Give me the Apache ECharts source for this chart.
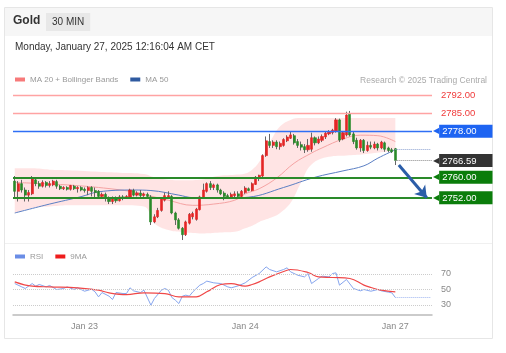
<!DOCTYPE html>
<html>
<head>
<meta charset="utf-8">
<script src="https://cdn.jsdelivr.net/npm/echarts@6/dist/echarts.min.js"></script>
<style>
  html, body { margin: 0; padding: 0; background: #fff; }
  #chart { width: 506px; height: 353px; }
</style>
</head>
<body>
<div id="chart"></div>
<script>
// 30 min slots on the x axis (data + empty room on the right)
const slots = Array.from({ length: 120 }, (_, i) => String(i));
const tickIndex = [20, 66, 109];
const tickText = ['Jan 23', 'Jan 24', 'Jan 27'];

// [open, close, low, high]
const candles = [
  [2758.5,2754.5,2751.5,2760.5],[2754.5,2757.5,2750.5,2758.5],[2757.5,2755,2754,2759],[2755,2753,2750.5,2756],
  [2753,2754,2750.5,2755],[2753.5,2759.5,2753,2760.5],[2759,2757.5,2756.5,2760],[2757.5,2756.5,2755.5,2758.5],
  [2756.5,2758,2756,2758.8],[2758,2756.8,2756,2758.5],[2756.8,2757.5,2756,2758.5],[2757,2758.5,2756.5,2759],
  [2758.3,2756.5,2755.5,2759],[2756.5,2755.5,2755,2757],[2755.5,2756,2755,2756.5],[2756,2755.3,2754.8,2756.5],
  [2755.3,2756.8,2754.8,2757],[2756.5,2755.5,2755,2757],[2755.5,2756,2754,2756.5],[2756,2755,2754.5,2756.5],
  [2755.3,2754.8,2754,2756],[2754.8,2756,2753,2756.5],[2756,2754.5,2752.5,2756.5],[2754.8,2754,2752,2756],
  [2754.5,2752.5,2751.5,2755],[2752.5,2753.3,2751.5,2754],[2753.3,2752,2750.5,2754],[2752,2750.5,2749.5,2752.5],
  [2750.5,2752,2749.5,2752.5],[2752,2750.8,2750,2752.5],[2750.8,2752.3,2750.5,2753],[2752.3,2751.8,2751,2753],
  [2751.8,2752.5,2751.5,2753],[2752,2755,2751.5,2755.5],[2754.8,2753,2752.5,2755.5],[2753,2753.8,2752.5,2754.5],
  [2753.8,2752.8,2752,2755],[2752.8,2753.5,2752.3,2754],[2753.3,2752.5,2752,2754],[2752.3,2742.5,2741.3,2753],
  [2742.5,2744.5,2742,2745.5],[2744.5,2747,2744,2748],[2747,2751.5,2746.5,2752],[2751,2752.8,2750.5,2754],
  [2752.3,2752.8,2751.5,2754.5],[2752.5,2746,2745.5,2753],[2746,2743.3,2741.3,2746.5],[2743.3,2740,2739.5,2744],
  [2740,2737.5,2735.4,2740.5],[2737.5,2742.5,2737,2743],[2742,2745.5,2741.5,2746],[2744.5,2745.8,2743.5,2746.5],
  [2743.5,2747.5,2743,2748],[2747.3,2752.3,2747,2752.8],[2752,2755,2751.5,2757.5],[2754.5,2757.5,2754,2758],
  [2757.5,2756,2755,2758.5],[2756,2757,2755,2757.5],[2757,2755,2754,2757.5],[2755,2753.5,2753,2755.5],
  [2753.8,2752.5,2751,2754.5],[2752.8,2752.3,2751.5,2753.5],[2752.3,2753.3,2752,2754],[2752.8,2753.5,2752,2754.5],
  [2753.5,2752.5,2752,2754.5],[2752.5,2754.5,2752.2,2755],[2754,2755.8,2753.5,2756.5],[2755.5,2754.8,2754.5,2756],
  [2754.8,2757.5,2754.5,2758],[2757.2,2760,2757,2760.5],[2759.5,2760.8,2758.5,2761],[2760.5,2768.5,2760,2769],
  [2768.5,2774.3,2768,2776],[2774,2772.5,2771.5,2777],[2772.5,2773.8,2771.5,2774.5],[2773.8,2772,2771,2774.5],
  [2772,2773.3,2770.8,2774],[2772.5,2774.8,2772,2775.3],[2774.3,2775.8,2773.8,2776.5],[2775.3,2776.6,2775,2778],
  [2776.3,2773.5,2772.8,2777],[2774,2772.5,2771.5,2775],[2772.8,2771.8,2770.5,2774],[2772,2770.8,2769.5,2773],
  [2770.8,2772.5,2770,2775],[2771,2775.5,2770,2777.5],[2775.5,2773.5,2772.5,2776],[2773.5,2775,2773,2776],
  [2774.5,2776,2773.8,2776.8],[2775.8,2777.3,2775,2778],[2777,2777.8,2776.5,2778.5],[2777.5,2778.5,2776.8,2779],
  [2778,2782.5,2777.5,2783.2],[2782.5,2774.6,2773.8,2783],[2775,2777.5,2774.5,2778],[2776.6,2784.4,2776,2785.7],
  [2784.8,2776.6,2776,2786],[2777,2774,2773,2778],[2774.5,2771.5,2770.8,2775.5],[2771.5,2774.5,2770,2775],
  [2774.5,2770.5,2769.5,2775],[2770.5,2772.5,2770,2774],[2772.5,2771.8,2771,2774],[2771.5,2773,2771,2774],
  [2773,2771.5,2770.5,2773.5],[2771.5,2773.8,2771,2774.3],[2773.5,2771,2770,2774],[2771.5,2770.5,2769.8,2772],
  [2770.8,2770,2769.5,2771.5],[2771.2,2766.59,2764.8,2771.5]
];

// Bollinger bands (read at sample slots)
const bandIdx   = [0, 5, 10, 15, 20, 24, 30, 37, 40, 44, 48, 53, 58, 63, 66, 68, 70, 72, 74, 76, 79, 82, 85, 90, 95, 100, 105, 109];
const bandUpper = [2763.5,2763.5,2763,2762.8,2762.5,2762.2,2761.8,2761.3,2760,2759,2758.8,2759,2760.5,2761,2761.5,2763,2766,2771,2776,2780,2782.5,2783.2,2783.2,2783.2,2783.2,2783.2,2783.2,2783.2];
const bandLower = [2746,2748,2748.5,2749,2749,2749,2749,2748.5,2742,2739.3,2738.5,2738,2738.3,2738.6,2740,2741,2742.5,2743.5,2744.5,2746,2750,2758,2765,2768,2768.5,2769,2769.8,2770.5];

const ma20Idx = [0, 8, 15, 24, 34, 37, 44, 51, 57, 63, 66, 70, 75, 80, 85, 88, 94, 99, 104, 109];
const ma20    = [2758,2757.5,2757,2756,2754.3,2753.3,2751,2749,2749.5,2751,2753.5,2755.5,2759.7,2765.5,2769.5,2771.5,2775,2776.5,2776.3,2774];
const ma50Idx = [0, 10, 19, 24, 34, 39, 47, 51, 60, 67, 77, 86, 94, 100, 104, 109];
const ma50    = [2746,2749.5,2752.4,2754.3,2755,2754.8,2753,2752,2751.8,2752.2,2756,2760,2762.5,2764.5,2767.5,2770.8];

const rsiIdx = [0,2,3,5,6,7,9,10,12,14,15,17,18,20,22,23,24,25,27,28,29,31,32,33,34,36,37,39,40,42,43,44,45,46,47,48,49,50,51,53,54,55,57,59,61,62,64,66,68,70,72,73,75,77,78,79,81,83,84,85,87,88,90,91,92,93,95,97,99,100,102,104,105,107,108,109];
const rsi    = [57.7,53.4,51.3,57.7,54.3,56.5,53.4,55.2,50,51.3,53.4,50,52.2,47.8,50.4,47,40.5,46.1,41.4,37.1,46.1,44.8,44.8,52.2,48.3,46.1,49.1,29.8,38.4,49.1,51.3,49.1,39.7,36.2,31.9,41.4,42.7,41.4,47,55.6,57.7,60.8,58.6,57.7,53.4,52.2,54.7,58.6,65.5,70.6,79.2,75.8,72.8,75.8,78,72.8,68.5,66.3,70.6,57.7,64.2,67.2,66.3,70.6,71.5,55.6,62.9,51.3,48.3,50,47.8,50,48.3,46.6,45.7,39.7];
const rsiMaIdx = [0,5,10,18,24,27,32,37,43,47,52,55,59,62,66,68,70,73,78,79,84,87,91,96,100,102,105,109];
const rsiMa    = [59.9,54.3,53.4,52.2,49.1,45.7,43.5,45.7,44.8,40.5,40.5,47,56.5,57.7,54.3,56.5,59.9,66.3,74.9,75.8,71.9,66.3,65.5,64.2,55.6,52.6,49.1,47];

const resistance = [2792, 2785];
const pivot = 2778;
const supports = [2760, 2752];
const lastPrice = 2766.59;
const arrowFrom = [110, 2764.8];
const arrowTo = [118, 2752];
const rsiLevels = [70, 50, 30];

const font = 'Liberation Sans, Arial, sans-serif';
const pairs = (idx, vals) => idx.map((i, k) => [i, vals[k]]);

function tag(text, bg) {
  return {
    show: true, position: 'end', distance: 1,
    formatter: '{n|◀}{b|' + text + '}',
    rich: {
      n: { color: bg, fontSize: 8, lineHeight: 12, fontFamily: 'DejaVu Sans' },
      b: { backgroundColor: bg, color: '#fff', fontSize: 9.5, fontFamily: font,
           lineHeight: 12, height: 12, padding: [1, 16, 0, 3] }
    }
  };
}

// horizontal level as a two-point segment across the whole price grid
function level(v, color, width, label) {
  return [
    { coord: [0, v], x: 13, lineStyle: { color: color, width: width, type: 'solid', opacity: 1 }, label: label },
    { coord: [119, v], x: 432 }
  ];
}

const chart = echarts.init(document.getElementById('chart'));

const levelLines = [
  ...resistance.map(v => level(v, '#ffa3a3', 1.4, {
    show: true, position: 'end', distance: 9, formatter: v.toFixed(2),
    color: '#f03a3a', fontSize: 9.5, fontFamily: font })),
  level(pivot, '#2f6ff5', 1.4, tag(pivot.toFixed(2), '#1e64f2')),
  ...supports.map(v => level(v, '#2a8a2a', 2, tag(v.toFixed(2), '#0b7d0b'))),
  [
    { coord: [109, lastPrice], lineStyle: { color: '#888', width: 1, type: 'dotted' }, label: tag(lastPrice.toFixed(2), '#333333') },
    { coord: [119, lastPrice], x: 432 }
  ],
  [
    { coord: [109, ma50[ma50.length - 1]], lineStyle: { color: '#8aa0d0', width: 1, type: 'dotted' }, label: { show: false } },
    { coord: [119, ma50[ma50.length - 1]] }
  ],
  [
    { coord: arrowFrom, lineStyle: { color: '#2b5da8', width: 3, type: 'solid' }, label: { show: false } },
    { coord: arrowTo, symbol: 'arrow', symbolSize: 11 }
  ]
];

const option = {
  animation: false,
  backgroundColor: '#fff',
  textStyle: { fontFamily: font },
  graphic: [
    { type: 'rect', z: -10, shape: { x: 4.5, y: 7.5, width: 488, height: 331 },
      style: { fill: '#fff', stroke: '#e6e6e6', lineWidth: 1 } },
    { type: 'rect', z: -9, shape: { x: 5, y: 8, width: 487, height: 28 },
      style: { fill: '#f6f6f6' } },
    { type: 'line', z: -9, shape: { x1: 5, y1: 243.5, x2: 492, y2: 243.5 },
      style: { stroke: '#f0f0f0', lineWidth: 1 } }
  ],
  title: [
    { text: 'Gold', left: 13, top: 15, padding: 0,
      textStyle: { fontSize: 12, fontWeight: 'bold', color: '#333', fontFamily: font } },
    { text: '30 MIN', left: 46, top: 13, padding: [4, 6, 4, 6], backgroundColor: '#e8e8e8',
      textStyle: { fontSize: 10, fontWeight: 'normal', color: '#333', fontFamily: font } },
    { text: 'Monday, January 27, 2025 12:16:04 AM CET', left: 15, top: 42, padding: 0,
      textStyle: { fontSize: 10, fontWeight: 'normal', color: '#333', fontFamily: font } },
    { text: 'Research © 2025 Trading Central', right: 19, top: 76, padding: 0,
      textStyle: { fontSize: 8.5, fontWeight: 'normal', color: '#aaa', fontFamily: font } }
  ],
  legend: [
    { top: 75.5, left: 15, padding: 0, icon: 'rect', itemWidth: 10, itemHeight: 4, itemGap: 12,
      textStyle: { color: '#999', fontSize: 8, fontFamily: font },
      data: [{ name: 'MA 20 + Bollinger Bands', itemStyle: { color: '#f77a7a' } },
             { name: 'MA 50', itemStyle: { color: '#2f5aa0' } }] },
    { top: 252.5, left: 15, padding: 0, icon: 'rect', itemWidth: 10, itemHeight: 4, itemGap: 12,
      textStyle: { color: '#999', fontSize: 8, fontFamily: font },
      data: [{ name: 'RSI', itemStyle: { color: '#6a8de6' } },
             { name: '9MA', itemStyle: { color: '#ee1c1c' } }] }
  ],
  grid: [
    { left: 13, width: 419, top: 88, height: 155.6 },
    { left: 13, width: 419, top: 262, height: 53 }
  ],
  xAxis: [
    { type: 'category', gridIndex: 0, data: slots, boundaryGap: true, show: false },
    { type: 'category', gridIndex: 1, data: slots, boundaryGap: true,
      axisLine: { lineStyle: { color: '#bbb', width: 1.5 } },
      axisTick: { show: false },
      axisLabel: { interval: i => tickIndex.includes(i), margin: 7,
                   formatter: (v, i) => tickText[tickIndex.indexOf(i)] || '',
                   color: '#888', fontSize: 9, fontFamily: font } }
  ],
  yAxis: [
    { type: 'value', gridIndex: 0, min: 2734, max: 2795, show: false, splitLine: { show: false } },
    { type: 'value', gridIndex: 1, min: 17.1, max: 85.5, show: false, splitLine: { show: false } }
  ],
  series: [
    { name: 'bandLow', type: 'line', stack: 'bb', smooth: 0.4, symbol: 'none', z: 1,
      data: pairs(bandIdx, bandLower), lineStyle: { opacity: 0 } },
    { name: 'bandFill', type: 'line', stack: 'bb', smooth: 0.4, symbol: 'none', z: 1,
      data: bandIdx.map((i, k) => [i, bandUpper[k] - bandLower[k]]),
      lineStyle: { opacity: 0 }, areaStyle: { color: 'rgba(255,120,120,0.2)', opacity: 1 } },
    { name: 'MA 20 + Bollinger Bands', type: 'line', smooth: 0.4, symbol: 'none', z: 2,
      data: pairs(ma20Idx, ma20), lineStyle: { color: '#f5a3a3', width: 1 } },
    { name: 'MA 50', type: 'line', smooth: 0.4, symbol: 'none', z: 2,
      data: pairs(ma50Idx, ma50), lineStyle: { color: '#5b7fc4', width: 1 } },
    { name: 'wicks', type: 'candlestick', z: 3, barWidth: 1, data: candles,
      itemStyle: { color: '#666', color0: '#666', borderColor: '#666', borderColor0: '#666', borderWidth: 1 } },
    { name: 'bodies', type: 'candlestick', z: 4, barWidth: 2.6,
      data: candles.map(([o, c]) => [o, c, Math.min(o, c), Math.max(o, c)]),
      itemStyle: { color: '#e42525', color0: '#2a8a2a', borderColor: '#e42525', borderColor0: '#2a8a2a', borderWidth: 0.6 } },
    { name: 'levels', type: 'line', z: 5, data: [], symbol: 'none',
      markLine: { silent: true, symbol: ['none', 'none'], data: levelLines } },
    { name: 'RSI', type: 'line', xAxisIndex: 1, yAxisIndex: 1, symbol: 'none',
      data: pairs(rsiIdx, rsi), lineStyle: { color: '#86a5ee', width: 1 },
      markLine: {
        silent: true, symbol: ['none', 'none'],
        data: [
          ...rsiLevels.map(v => ({
            yAxis: v, lineStyle: { color: '#ccc', type: 'dotted', width: 1 },
            label: { show: true, position: 'end', distance: 9, formatter: String(v),
                     color: '#888', fontSize: 9, fontFamily: font }
          })),
          [
            { coord: [109, rsi[rsi.length - 1]], lineStyle: { color: '#9db4f0', type: 'dotted', width: 1 }, label: { show: false } },
            { coord: [119, rsi[rsi.length - 1]] }
          ]
        ]
      } },
    { name: '9MA', type: 'line', xAxisIndex: 1, yAxisIndex: 1, symbol: 'none', smooth: 0.4,
      data: pairs(rsiMaIdx, rsiMa), lineStyle: { color: '#f04848', width: 1.2 } }
  ]
};

chart.setOption(option);
</script>
</body>
</html>
